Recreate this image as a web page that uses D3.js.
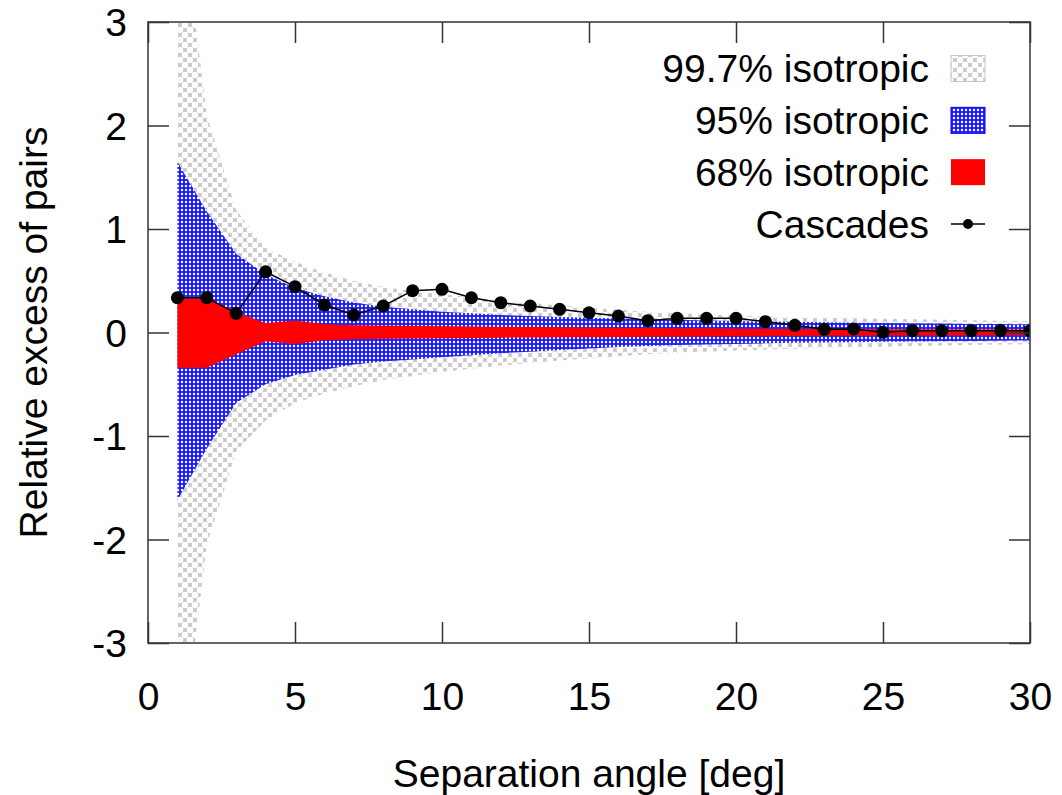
<!DOCTYPE html>
<html>
<head>
<meta charset="utf-8">
<script src="https://cdn.jsdelivr.net/npm/d3@7"></script>
<style>
  body { margin: 0; background: #fff; }
  svg { display: block; }
  text { font-family: "Liberation Sans", Arial, Helvetica, sans-serif; fill: #000; }
</style>
</head>
<body>
<div id="chart"></div>
<script>
// separation angle bins [deg]
const angles = [1,2,3,4,5,6,7,8,9,10,11,12,13,14,15,16,17,18,19,20,21,22,23,24,25,26,27,28,29,30];

// observed relative excess of pairs (cascades)
const cascades = [0.336,0.336,0.185,0.587,0.443,0.266,0.169,0.256,0.404,0.417,0.336,0.288,0.256,0.224,0.191,0.159,0.114,0.137,0.137,0.137,0.105,0.069,0.031,0.034,0.002,0.018,0.018,0.018,0.018,0.018];

// isotropic bands (lower / upper edge)
const band68Lo = [-0.34,-0.34,-0.21,-0.085,-0.11,-0.075,-0.065,-0.06,-0.058,-0.056,-0.053,-0.05,-0.048,-0.046,-0.045,-0.043,-0.041,-0.04,-0.038,-0.036,-0.035,-0.033,-0.032,-0.031,-0.03,-0.03,-0.029,-0.028,-0.028,-0.027];
const band68Hi = [0.33,0.33,0.20,0.09,0.115,0.08,0.07,0.065,0.063,0.06,0.057,0.054,0.052,0.05,0.048,0.046,0.044,0.042,0.04,0.038,0.036,0.035,0.034,0.033,0.032,0.031,0.03,0.03,0.029,0.028];
const band95Lo = [-1.62,-1.12,-0.68,-0.50,-0.41,-0.36,-0.31,-0.28,-0.26,-0.24,-0.22,-0.20,-0.185,-0.17,-0.155,-0.14,-0.13,-0.12,-0.115,-0.11,-0.105,-0.10,-0.097,-0.093,-0.09,-0.087,-0.084,-0.081,-0.079,-0.077];
const band95Hi = [1.65,1.17,0.76,0.56,0.43,0.35,0.29,0.25,0.225,0.20,0.185,0.17,0.16,0.15,0.142,0.135,0.128,0.122,0.117,0.112,0.107,0.103,0.099,0.095,0.092,0.089,0.086,0.083,0.081,0.079];
const band997Lo = [-4.4,-2.05,-1.15,-0.85,-0.68,-0.59,-0.52,-0.46,-0.42,-0.38,-0.35,-0.32,-0.295,-0.27,-0.25,-0.23,-0.21,-0.195,-0.185,-0.175,-0.165,-0.157,-0.15,-0.143,-0.137,-0.131,-0.126,-0.121,-0.117,-0.113];
const band997Hi = [4.4,2.1,1.18,0.82,0.68,0.58,0.50,0.44,0.40,0.37,0.34,0.31,0.285,0.26,0.24,0.22,0.20,0.185,0.175,0.165,0.155,0.148,0.142,0.137,0.132,0.127,0.122,0.118,0.114,0.11];

const xTicks = [0,5,10,15,20,25,30];
const yTicks = [-3,-2,-1,0,1,2,3];
const legendLabels = ["99.7% isotropic","95% isotropic","68% isotropic","Cascades"];

const W = 1062, H = 795;
const margin = {top: 22, right: 32, bottom: 152, left: 148};
const fontSize = 39;

const svg = d3.select("#chart").append("svg")
    .attr("width", W).attr("height", H);

const x = d3.scaleLinear().domain([0, 30]).range([margin.left, W - margin.right]);
const y = d3.scaleLinear().domain([-3, 3]).range([H - margin.bottom, margin.top]);

const defs = svg.append("defs");

// coarse grey crosshatch: grey lattice with round white holes
const gp = 10;
const pGrey = defs.append("pattern").attr("id", "hatchGrey")
    .attr("patternUnits", "userSpaceOnUse").attr("width", gp).attr("height", gp);
pGrey.append("rect").attr("width", gp).attr("height", gp).attr("fill", "#c6c6c6");
[[gp / 2, gp / 2], [0, 0], [gp, 0], [0, gp], [gp, gp]].forEach(([cx, cy]) => {
    pGrey.append("circle").attr("cx", cx).attr("cy", cy).attr("r", 3.3).attr("fill", "#ffffff");
});

// fine blue crosshatch: blue lattice with small white dots
const bp = 4;
const pBlue = defs.append("pattern").attr("id", "hatchBlue")
    .attr("patternUnits", "userSpaceOnUse").attr("width", bp).attr("height", bp);
pBlue.append("rect").attr("width", bp).attr("height", bp).attr("fill", "#1a1aff");
pBlue.append("circle").attr("cx", bp / 2).attr("cy", bp / 2).attr("r", 1.2).attr("fill", "#ffffff");

defs.append("clipPath").attr("id", "plotClip")
  .append("rect")
    .attr("x", margin.left).attr("y", margin.top)
    .attr("width", W - margin.left - margin.right)
    .attr("height", H - margin.top - margin.bottom);

const plot = svg.append("g").attr("clip-path", "url(#plotClip)");

function band(lo, hi) {
    return d3.area()
        .x((d, i) => x(angles[i]))
        .y0((d, i) => y(lo[i]))
        .y1((d, i) => y(hi[i]))(angles);
}

plot.append("path").attr("d", band(band997Lo, band997Hi)).attr("fill", "url(#hatchGrey)");
plot.append("path").attr("d", band(band95Lo, band95Hi)).attr("fill", "url(#hatchBlue)");
plot.append("path").attr("d", band(band68Lo, band68Hi)).attr("fill", "#ff0000");

const line = d3.line().x((d, i) => x(angles[i])).y(d => y(d));
plot.append("path").attr("d", line(cascades))
    .attr("fill", "none").attr("stroke", "#000").attr("stroke-width", 1.5);
plot.selectAll("circle.pt").data(cascades).join("circle")
    .attr("class", "pt")
    .attr("cx", (d, i) => x(angles[i]))
    .attr("cy", d => y(d))
    .attr("r", 6.5)
    .attr("fill", "#000");

// axes, ticks pointing inward on all four sides
const tick = 21;
const fmt = d => String(d);
const axB = svg.append("g").attr("transform", `translate(0,${H - margin.bottom})`)
    .call(d3.axisBottom(x).tickValues(xTicks).tickFormat(fmt).tickSizeInner(-tick).tickSizeOuter(0).tickPadding(39));
const axT = svg.append("g").attr("transform", `translate(0,${margin.top})`)
    .call(d3.axisTop(x).tickValues(xTicks).tickSizeInner(-tick).tickSizeOuter(0).tickFormat(""));
const axL = svg.append("g").attr("transform", `translate(${margin.left},0)`)
    .call(d3.axisLeft(y).tickValues(yTicks).tickFormat(fmt).tickSizeInner(-tick).tickSizeOuter(0).tickPadding(21));
const axR = svg.append("g").attr("transform", `translate(${W - margin.right},0)`)
    .call(d3.axisRight(y).tickValues(yTicks).tickSizeInner(-tick).tickSizeOuter(0).tickFormat(""));

[axB, axT, axL, axR].forEach(g => {
    g.select(".domain").remove();
    g.selectAll(".tick line").attr("stroke", "#333").attr("stroke-width", 1.5);
    g.selectAll(".tick text").attr("font-size", fontSize).attr("font-family", null).attr("fill", "#000");
});
axL.selectAll(".tick text").attr("dy", "0.35em");

svg.append("rect")
    .attr("x", margin.left).attr("y", margin.top)
    .attr("width", W - margin.left - margin.right)
    .attr("height", H - margin.top - margin.bottom)
    .attr("fill", "none").attr("stroke", "#333").attr("stroke-width", 1.5);

// axis titles
svg.append("text")
    .attr("x", (margin.left + W - margin.right) / 2).attr("y", 787)
    .attr("text-anchor", "middle").attr("font-size", fontSize)
    .text("Separation angle [deg]");
svg.append("text")
    .attr("transform", `translate(47,${(margin.top + H - margin.bottom) / 2}) rotate(-90)`)
    .attr("text-anchor", "middle").attr("font-size", fontSize)
    .text("Relative excess of pairs");

// legend
const legend = svg.append("g");
const rowY = d3.scalePoint().domain(legendLabels).range([68.5, 224]);
const sw = {x: 951, w: 34, h: 26};
legendLabels.forEach((lab, i) => {
    const cy = rowY(lab);
    legend.append("text")
        .attr("x", 929).attr("y", cy).attr("dy", "0.35em")
        .attr("text-anchor", "end").attr("font-size", fontSize)
        .text(lab);
    if (i === 0) {
        legend.append("rect").attr("x", sw.x).attr("y", cy - sw.h / 2).attr("width", sw.w).attr("height", sw.h)
            .attr("fill", "url(#hatchGrey)").attr("stroke", "#c8c8c8").attr("stroke-width", 1);
    } else if (i === 1) {
        legend.append("rect").attr("x", sw.x).attr("y", cy - sw.h / 2).attr("width", sw.w).attr("height", sw.h)
            .attr("fill", "url(#hatchBlue)").attr("stroke", "#0000ff").attr("stroke-width", 1);
    } else if (i === 2) {
        legend.append("rect").attr("x", sw.x).attr("y", cy - sw.h / 2).attr("width", sw.w).attr("height", sw.h)
            .attr("fill", "#ff0000");
    } else {
        legend.append("line").attr("x1", sw.x).attr("x2", sw.x + sw.w).attr("y1", cy).attr("y2", cy)
            .attr("stroke", "#000").attr("stroke-width", 1.5);
        legend.append("circle").attr("cx", sw.x + sw.w / 2).attr("cy", cy).attr("r", 5).attr("fill", "#000");
    }
});
</script>
</body>
</html>
